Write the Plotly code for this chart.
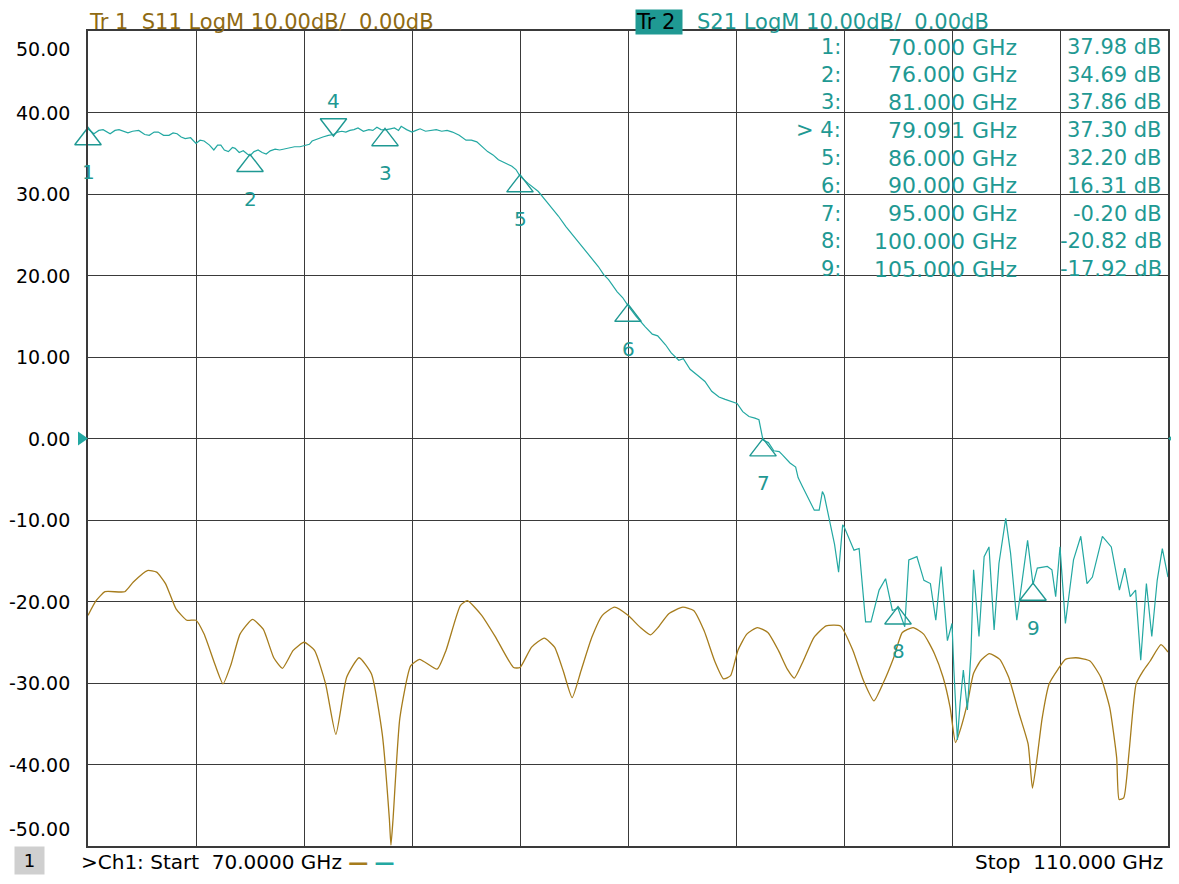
import plotly.graph_objects as go

# ---------------- data ----------------
s21_freq = [70.0, 70.22, 70.4, 70.56, 70.82, 71.0, 71.15, 71.48, 71.65, 71.88, 72.1, 72.27, 72.45, 72.6, 72.8,
            73.0, 73.15, 73.3, 73.45, 73.6, 73.8, 74.0, 74.15, 74.3, 74.5, 74.66, 74.8, 74.92, 75.05, 75.2,
            75.35, 75.45, 75.6, 75.75, 75.9, 76.0, 76.15, 76.3, 76.45, 76.6, 76.75, 76.93, 77.1, 77.26, 77.45,
            77.65, 77.85, 78.05, 78.2, 78.3, 78.5, 78.7, 78.9, 79.091, 79.25, 79.4, 79.55, 79.7, 79.85, 80.0,
            80.2, 80.4, 80.55, 80.7, 80.85, 81.0, 81.2, 81.35, 81.5, 81.6, 81.8, 82.0, 82.15, 82.3, 82.5,
            82.7, 82.9, 83.1, 83.3, 83.5, 83.75, 84.0, 84.2, 84.4, 84.6, 84.8, 85.0, 85.2, 85.45, 85.7,
            85.85, 86.0, 86.3, 86.68, 87.0, 87.42, 87.7, 88.04, 88.4, 88.7, 88.9, 89.1, 89.28, 89.6, 89.8,
            90.0, 90.3, 90.64, 90.9, 91.1, 91.39, 91.6, 91.88, 92.05, 92.3, 92.63, 92.85, 93.1, 93.37, 93.6,
            94.04, 94.25, 94.48, 94.7, 94.85, 95.0, 95.2, 95.4, 95.6, 95.72, 96.0, 96.21, 96.3, 96.46, 96.7,
            96.9, 97.08, 97.2, 97.27, 97.5, 97.65, 97.8, 97.95, 98.0, 98.25, 98.37, 98.56, 98.8, 99.0, 99.3,
            99.54, 99.79, 100.0, 100.25, 100.4, 100.7, 100.96, 101.2, 101.4, 101.6, 101.83, 102.0, 102.07, 102.2, 102.3,
            102.42, 102.57, 102.7, 102.8, 103.0, 103.19, 103.37, 103.56, 103.74, 103.99, 104.17, 104.4, 104.8, 105.0, 105.16,
            105.53, 105.7, 105.84, 106.0, 106.2, 106.5, 106.77, 107.0, 107.2, 107.57, 107.9, 108.2, 108.4, 108.6, 108.8,
            108.99, 109.2, 109.4, 109.6, 109.79, 110.0]
s21_db = [37.98, 37.4, 37.8, 37.9, 37.4, 37.8, 37.9, 37.5, 37.7, 37.8, 37.3, 37.2, 37.6, 37.6, 37.2,
          37.2, 37.5, 37.4, 37.0, 36.8, 36.9, 36.2, 36.6, 36.5, 36.0, 35.4, 36.0, 36.0, 35.4, 35.2,
          35.7, 35.6, 35.1, 35.3, 34.9, 34.69, 35.2, 35.4, 35.1, 34.9, 35.3, 35.5, 35.4, 35.5, 35.6,
          35.8, 35.8, 36.0, 36.1, 36.5, 36.8, 37.0, 37.2, 37.30, 37.6, 37.7, 37.6, 37.8, 37.9, 38.1,
          37.7, 37.9, 37.8, 38.2, 37.9, 37.86, 38.0, 38.1, 37.8, 38.3, 37.9, 37.6, 37.8, 38.0, 37.7,
          37.8, 37.9, 37.7, 37.8, 37.6, 37.2, 36.6, 36.6, 36.4, 35.8, 35.2, 34.8, 34.2, 33.8, 33.4,
          33.0, 32.2, 31.3, 30.3, 29.0, 27.3, 26.0, 24.6, 23.2, 21.9, 21.1, 20.1, 19.5, 18.0, 17.3,
          16.31, 15.0, 13.7, 12.8, 12.6, 11.5, 10.5, 9.6, 9.8, 8.5, 7.6, 7.0, 5.8, 5.1, 4.8,
          4.3, 3.3, 2.7, 2.5, 2.3, -0.20, -0.5, -1.5, -1.6, -2.0, -3.0, -3.5, -4.8, -5.9, -7.6,
          -8.8, -8.8, -6.5, -7.0, -10.8, -13.0, -16.4, -10.6, -10.8, -12.9, -13.7, -13.5, -22.5, -22.5, -18.6,
          -17.2, -21.1, -20.82, -23.1, -14.9, -14.5, -17.4, -17.8, -22.3, -15.7, -24.8, -22.7, -28.4, -37.0, -32.5,
          -28.4, -33.3, -26.4, -16.1, -24.3, -14.5, -13.3, -23.5, -15.3, -9.8, -14.1, -22.3, -12.5, -17.92, -15.9,
          -15.7, -16.1, -19.4, -13.3, -22.7, -14.9, -12.0, -17.8, -17.0, -12.0, -13.3, -18.6, -15.9, -19.4, -18.6,
          -27.2, -17.8, -24.3, -17.4, -13.5, -17.0]

s11_freq = [70.0, 70.3, 70.63, 71.36, 71.68, 72.2, 72.54, 72.87, 73.26, 73.66, 74.0, 74.3, 74.7, 75.0, 75.3,
            75.63, 76.09, 76.49, 76.88, 77.2, 77.6, 78.0, 78.39, 78.8, 79.18, 79.58, 80.04, 80.5, 80.9, 81.16,
            81.22, 81.3, 81.55, 81.95, 82.28, 82.93, 83.26, 83.79, 84.05, 84.58, 85.1, 85.76, 86.0, 86.43, 86.9,
            87.28, 87.6, 87.93, 88.26, 88.66, 89.05, 89.5, 90.0, 90.46, 90.83, 91.11, 91.51, 92.03, 92.43, 92.82,
            93.21, 93.54, 93.8, 94.07, 94.4, 94.79, 95.18, 95.57, 95.9, 96.16, 96.49, 96.89, 97.34, 97.87, 98.33,
            98.72, 99.11, 99.44, 99.84, 100.16, 100.56, 100.95, 101.35, 101.67, 101.93, 102.13, 102.33, 102.59, 102.79, 103.05,
            103.38, 103.77, 104.1, 104.49, 104.82, 104.98, 105.15, 105.34, 105.6, 105.93, 106.2, 106.59, 107.11, 107.51, 107.84,
            108.1, 108.19, 108.36, 108.56, 108.82, 109.08, 109.34, 109.74, 110.0]
s11_db = [-21.7, -19.9, -18.8, -18.8, -17.6, -16.2, -16.4, -17.8, -20.9, -22.3, -22.3, -24.0, -27.7, -30.1, -27.7,
          -24.0, -22.2, -23.4, -26.9, -28.2, -26.0, -25.0, -26.0, -30.1, -36.3, -29.3, -26.9, -28.9, -36.3, -46.6,
          -49.9, -46.6, -34.3, -27.9, -27.1, -28.3, -26.0, -20.5, -19.9, -21.7, -24.4, -28.1, -28.1, -25.6, -24.5,
          -25.6, -28.5, -31.8, -28.5, -24.4, -21.7, -20.7, -21.7, -23.2, -24.1, -23.2, -21.5, -20.7, -21.1, -23.6,
          -27.3, -29.5, -29.1, -26.0, -24.0, -23.2, -23.8, -26.0, -28.3, -29.4, -27.3, -24.4, -23.0, -23.0, -26.0,
          -29.7, -32.2, -30.1, -26.9, -23.8, -23.2, -24.0, -26.4, -29.3, -33.0, -37.3, -35.5, -32.2, -28.9, -27.3,
          -26.4, -27.1, -29.3, -33.8, -37.5, -42.9, -39.2, -34.3, -30.1, -28.3, -27.1, -26.9, -27.3, -29.3, -33.0,
          -39.2, -44.3, -44.1, -38.4, -30.1, -28.5, -27.3, -25.3, -26.2]

marker_ids = ["1", "2", "3", "4", "5", "6", "7", "8", "9"]
marker_freq = [70.0, 76.0, 81.0, 79.091, 86.0, 90.0, 95.0, 100.0, 105.0]
marker_db = [37.98, 34.69, 37.86, 37.30, 32.20, 16.31, -0.20, -20.82, -17.92]
active_marker = "4"

ref_level_db = 0.0
y_ticks = [50, 40, 30, 20, 10, 0, -10, -20, -30, -40, -50]
x_start, x_stop, x_step = 70.0, 110.0, 4.0

# ---------------- style ----------------
TEAL = "#23a8a2"
TEAL_TXT = "#1f9993"
BROWN = "#a67c1c"
BROWN_TXT = "#8f6a12"
GRID = "#3a3a3a"
FONT = "DejaVu Sans, Verdana, sans-serif"

OFF = 8                      # page body margin
W, H = 1171, 868             # figure size inside the 1179x884 window
ML, MR, MT, MB = 80, 9, 23, 30
plot_w = W - ML - MR
plot_h = H - MT - MB
px_per_db = plot_h / 100.0
tri_off = 10 / px_per_db


def px(xw):
    """window pixel x -> paper x"""
    return (xw - OFF - ML) / plot_w


def py(yw):
    """window pixel y -> paper y"""
    return 1 - (yw - OFF - MT) / plot_h


fig = go.Figure()

fig.add_trace(go.Scatter(x=s11_freq, y=s11_db, mode="lines",
                         line=dict(color=BROWN, width=1.3, shape="spline", smoothing=0.5),
                         hoverinfo="skip"))
fig.add_trace(go.Scatter(x=s21_freq, y=s21_db, mode="lines",
                         line=dict(color=TEAL, width=1.2), hoverinfo="skip"))

# marker triangles
up_x = [f for f, i in zip(marker_freq, marker_ids) if i != active_marker]
up_y = [v - tri_off for v, i in zip(marker_db, marker_ids) if i != active_marker]
dn_x = [f for f, i in zip(marker_freq, marker_ids) if i == active_marker]
dn_y = [v + tri_off for v, i in zip(marker_db, marker_ids) if i == active_marker]
fig.add_trace(go.Scatter(x=up_x, y=up_y, mode="markers", cliponaxis=False,
                         marker=dict(symbol="triangle-up-open", size=23, color=TEAL_TXT,
                                     line=dict(width=1.4, color=TEAL_TXT)), hoverinfo="skip"))
fig.add_trace(go.Scatter(x=dn_x, y=dn_y, mode="markers", cliponaxis=False,
                         marker=dict(symbol="triangle-down-open", size=23, color=TEAL_TXT,
                                     line=dict(width=1.4, color=TEAL_TXT)), hoverinfo="skip"))

# reference-level arrows at 0 dB, just outside both sides of the grid
shapes = [
    dict(type="path", xref="paper", yref="y", xsizemode="pixel", ysizemode="pixel",
         xanchor=0, yanchor=ref_level_db, path="M -10,-7 L 0,0 L -10,7 Z",
         fillcolor=TEAL, line=dict(width=0), layer="above"),
    dict(type="path", xref="paper", yref="y", xsizemode="pixel", ysizemode="pixel",
         xanchor=1, yanchor=ref_level_db, path="M 9,-7 L 0,0 L 9,7 Z",
         fillcolor=TEAL, line=dict(width=0), layer="above"),
]

ann = []
for i, f, v in zip(marker_ids, marker_freq, marker_db):
    ann.append(dict(x=f, y=v, xref="x", yref="y", text=i, showarrow=False,
                    yshift=(34 if i == active_marker else -43),
                    font=dict(family=FONT, size=20, color=TEAL_TXT)))

# y tick labels
for t in y_ticks:
    ys = 0
    if t == max(y_ticks):
        ys = -18
    elif t == min(y_ticks):
        ys = 17
    ann.append(dict(x=0, y=t, xref="paper", yref="y", text=f"{t:.2f}", showarrow=False,
                    xanchor="right", xshift=-16, yshift=ys,
                    font=dict(family=FONT, size=19, color="black")))

# marker table
row_h = 27.75
for k, (i, f, v) in enumerate(zip(marker_ids, marker_freq, marker_db)):
    yc = 47 + k * row_h
    lab = ("> " + i + ":") if i == active_marker else (i + ":")
    for txt, xr, sz in ((lab, 844, 21), (f"{f:.3f} GHz", 1021, 22), (f"{v:.2f} dB", 1166, 21)):
        ann.append(dict(x=px(xr), y=py(yc), xref="paper", yref="paper",
                        text=txt, showarrow=False, xanchor="right", yanchor="middle",
                        font=dict(family=FONT, size=sz, color=TEAL_TXT)))

# header texts (kept inside the top edge of the figure)
ann.append(dict(x=px(88), y=py(OFF + 1), xref="paper", yref="paper",
                text="Tr 1  S11 LogM 10.00dB/  0.00dB", showarrow=False,
                xanchor="left", yanchor="top", borderpad=0,
                font=dict(family=FONT, size=21, color=BROWN_TXT)))
ann.append(dict(x=px(636), y=py(OFF + 1), xref="paper", yref="paper",
                text="Tr 2 ", showarrow=False, xanchor="left", yanchor="top",
                bgcolor="#1f9993", borderpad=0,
                font=dict(family=FONT, size=21, color="black")))
ann.append(dict(x=px(697), y=py(OFF + 1), xref="paper", yref="paper",
                text="S21 LogM 10.00dB/  0.00dB", showarrow=False,
                xanchor="left", yanchor="top", borderpad=0,
                font=dict(family=FONT, size=21, color=TEAL_TXT)))

# footer (kept inside the bottom edge of the figure)
bottom_w = OFF + H - 1
ann.append(dict(x=px(14), y=py(bottom_w), xref="paper", yref="paper",
                text=" 1 ", showarrow=False, xanchor="left", yanchor="bottom",
                bgcolor="#cfcfcf", borderpad=3,
                font=dict(family=FONT, size=18, color="black")))
ann.append(dict(x=px(80), y=py(bottom_w), xref="paper", yref="paper",
                text=(f">Ch1: Start  {x_start:.4f} GHz "
                      f"<span style='color:{BROWN}'><b>\u2014</b></span> "
                      f"<span style='color:{TEAL}'><b>\u2014</b></span>"),
                showarrow=False, xanchor="left", yanchor="bottom", borderpad=0,
                font=dict(family=FONT, size=20, color="black")))
ann.append(dict(x=px(1166), y=py(bottom_w), xref="paper", yref="paper",
                text=f"Stop  {x_stop:.3f} GHz", showarrow=False,
                xanchor="right", yanchor="bottom", borderpad=0,
                font=dict(family=FONT, size=20, color="black")))

fig.update_layout(
    width=W, height=H,
    margin=dict(l=ML, r=MR, t=MT, b=MB),
    paper_bgcolor="white", plot_bgcolor="white",
    showlegend=False,
    annotations=ann,
    shapes=shapes,
    xaxis=dict(range=[x_start, x_stop], dtick=x_step, tick0=x_start, showgrid=True,
               gridcolor=GRID, gridwidth=1.3, showticklabels=False, zeroline=False,
               showline=True, linecolor=GRID, linewidth=1.5, mirror=True, ticks=""),
    yaxis=dict(range=[min(y_ticks), max(y_ticks)], dtick=10, showgrid=True,
               gridcolor=GRID, gridwidth=1.3, showticklabels=False, zeroline=False,
               showline=True, linecolor=GRID, linewidth=1.5, mirror=True, ticks=""),
)

fig.write_html("out.html")
